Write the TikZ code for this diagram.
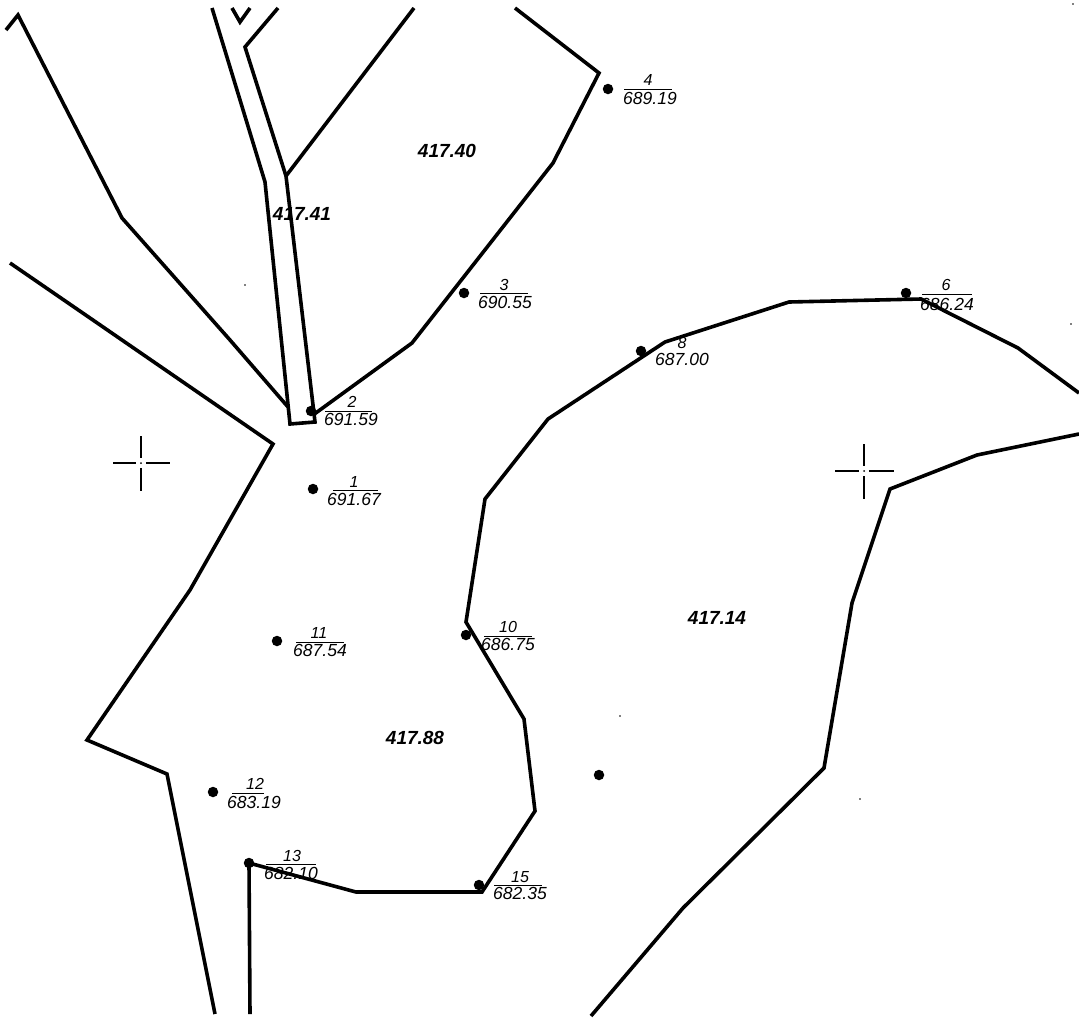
\documentclass[tikz,border=0pt]{standalone}
\usepackage{fontspec}
\setmainfont{Liberation Sans}
\tikzset{
  x=1pt,y=-1pt,
  parcel/.style={draw=black,line width=3.6pt,line join=miter},
  station/.style={circle,fill=black,inner sep=0pt,minimum size=10.5pt},
  areatxt/.style={font=\bfseries\itshape\fontsize{19}{19}\selectfont,inner sep=0pt},
  numtxt/.style={font=\itshape\fontsize{16}{16}\selectfont,inner sep=0pt},
  valtxt/.style={font=\itshape\fontsize{17.5}{17.5}\selectfont,inner sep=0pt},
  rulebar/.style={draw=black,line width=0.9pt},
  crosshair/.style={draw=black,line width=1.4pt},
  speck/.style={circle,fill=black,inner sep=0pt,minimum size=1.8pt}
}
\begin{document}
\begin{tikzpicture}
\useasboundingbox (0,0) rectangle (1079,1018);
\fill[white] (0,0) rectangle (1079,1018);
% parcel boundaries
\draw[parcel] (6,30) -- (18,15) -- (122,218) -- (230,340) -- (288,407);
\draw[parcel] (212,8) -- (265,182) -- (290,424) -- (315,422) -- (286,176) -- (245,47) -- (278,8);
\draw[parcel] (232,8) -- (240,22) -- (250,8);
\draw[parcel] (414,8) -- (286,176);
\draw[parcel] (515,8) -- (599,73) -- (553,163) -- (412,343) -- (313,415);
\draw[parcel] (10,263) -- (90,318) -- (273,444) -- (190,590) -- (87,740) -- (167,774) -- (215,1014);
\draw[parcel] (250,1014) -- (249,863) -- (356,892) -- (482,892) -- (535,811) -- (524,719) -- (466,622) -- (485,499) -- (548,419) -- (665,342) -- (789,302) -- (921,299) -- (1018,348) -- (1079,393);
\draw[parcel] (591,1016) -- (683,908) -- (824,768) -- (852,603) -- (890,489) -- (977,455) -- (1079,434);
% survey crosses
\draw[crosshair] (113,463) -- (136,463) (146,463) -- (170,463) (141,436) -- (141,458) (141,468) -- (141,491);
\draw[crosshair] (835,471) -- (859,471) (869,471) -- (894,471) (864,444) -- (864,466) (864,476) -- (864,499);
\fill (141,463) circle (1pt) (864,471) circle (1pt);
% stations
\node[station] (s1) at (313,489) {};
\node[station] (s2) at (311,411) {};
\node[station] (s3) at (464,293) {};
\node[station] (s4) at (608,89) {};
\node[station] (s6) at (906,293) {};
\node[station] (s8) at (641,351) {};
\node[station] (s10) at (466,635) {};
\node[station] (s11) at (277,641) {};
\node[station] (s12) at (213,792) {};
\node[station] (s13) at (249,863) {};
\node[station] (s15) at (479,885) {};
\node[station] (s0) at (599,775) {};
% station numbers
\node[numtxt] at (354,482) {1};
\node[numtxt] at (352,402) {2};
\node[numtxt] at (504,285) {3};
\node[numtxt] at (648,80) {4};
\node[numtxt] at (946,285) {6};
\node[numtxt] at (682,343) {8};
\node[numtxt] at (508,627) {10};
\node[numtxt] at (319,633) {11};
\node[numtxt] at (255,784) {12};
\node[numtxt] at (292,856) {13};
\node[numtxt] at (520,877) {15};
% elevation values
\node[valtxt] at (354,499) {691.67};
\node[valtxt] at (351,419) {691.59};
\node[valtxt] at (505,302) {690.55};
\node[valtxt] at (650,98) {689.19};
\node[valtxt] at (947,304) {686.24};
\node[valtxt] at (682,359) {687.00};
\node[valtxt] at (508,644) {686.75};
\node[valtxt] at (320,650) {687.54};
\node[valtxt] at (254,802) {683.19};
\node[valtxt] at (291,873) {682.10};
\node[valtxt] at (520,893) {682.35};
% fraction bars
\draw[rulebar] (325,411) -- (372,411);
\draw[rulebar] (333,490) -- (378,490);
\draw[rulebar] (480,293) -- (528,293);
\draw[rulebar] (624,89) -- (672,89);
\draw[rulebar] (922,294) -- (972,294);
\draw[rulebar] (484,636) -- (532,636);
\draw[rulebar] (296,642) -- (344,642);
\draw[rulebar] (232,793) -- (264,793);
\draw[rulebar] (266,864) -- (316,864);
\draw[rulebar] (494,885) -- (542,885);
% area labels
\node[areatxt] at (447,151) {417.40};
\node[areatxt] at (302,214) {417.41};
\node[areatxt] at (415,738) {417.88};
\node[areatxt] at (717,618) {417.14};
% specks
\node[speck] at (1073,4) {};
\node[speck] at (860,799) {};
\node[speck] at (1071,324) {};
\node[speck] at (620,716) {};
\node[speck] at (245,285) {};
\end{tikzpicture}
\end{document}
